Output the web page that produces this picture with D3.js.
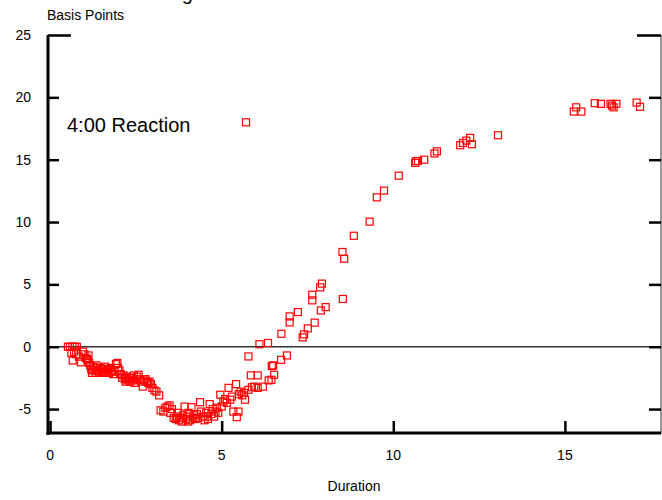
<!DOCTYPE html>
<html>
<head>
<meta charset="utf-8">
<script src="https://cdn.jsdelivr.net/npm/d3@7"></script>
<style>
  body { margin: 0; background: #fff; }
  text { font-family: Arial, "Liberation Sans", Helvetica, sans-serif; fill: #000; }
</style>
</head>
<body>
<script>
// duration of each observation (x) and the reaction in basis points (y)
var duration = [
  0.52, 0.58, 0.65, 0.72, 0.78, 0.62, 0.70, 0.66, 0.76, 0.84, 0.90, 0.96, 1.00, 1.04, 1.08, 1.12, 1.14, 1.10,
  1.17, 1.20, 1.22, 1.26, 1.30, 1.33, 1.37, 1.40, 1.44, 1.48, 1.52, 1.56, 1.60, 1.64, 1.68, 1.72, 1.76, 1.80,
  1.84, 1.88, 1.92, 1.96, 1.98, 2.02, 2.06, 1.50, 1.35, 1.62, 1.78, 1.24,
  2.10, 2.14, 2.18, 2.22, 2.26, 2.30, 2.34, 2.38, 2.42, 2.46, 2.50, 2.54, 2.58, 2.62, 2.66, 2.70, 2.74, 2.78,
  2.82, 2.86, 2.90, 2.94, 2.98, 3.04, 3.10, 3.18, 2.44, 2.20,
  3.22, 3.30, 3.36, 3.42, 3.48, 3.55, 3.60, 3.66, 3.70, 3.75, 3.80, 3.84, 3.88, 3.92, 3.96, 4.00, 4.04, 4.08,
  4.12, 4.16, 4.20, 4.24, 4.28, 4.32, 4.37, 4.40, 4.45, 4.50, 4.55, 4.60, 4.65, 4.70, 4.74, 4.78, 4.82, 4.86,
  4.90, 3.50, 3.72, 4.02, 4.60,
  4.96, 5.00, 5.05, 5.10, 5.15, 5.20, 5.25, 5.30, 5.34, 5.42, 5.44, 5.49, 5.50, 5.55, 5.60, 5.65, 5.68, 5.71,
  5.78, 5.78, 5.85, 5.88, 5.95, 6.05, 6.05, 6.10, 6.20, 6.35, 6.37, 6.45, 6.46, 6.50, 6.53, 6.73, 6.74, 6.90,
  6.98, 6.98, 7.22, 7.36, 7.40, 7.51, 7.64, 7.64, 7.71, 7.87, 7.92, 7.89, 8.03, 8.52, 8.57, 8.53, 8.85,
  9.31, 9.52, 9.73, 10.16, 10.64, 10.66, 10.72, 10.90, 11.20, 11.27, 11.95, 12.03, 12.13, 12.24, 12.29, 13.05,
  15.26, 15.33, 15.48, 15.87, 16.05, 16.33, 16.37, 16.42, 16.50, 17.09, 17.19
];

var basisPoints = [
  0.0, 0.0, 0.0, 0.0, 0.0, -0.5, -0.4, -1.1, -0.6, -0.8, -1.25, -0.4, -0.6, -0.9, -1.0, -0.7, -1.3, -1.1,
  -1.5, -1.8, -2.1, -1.6, -1.9, -2.1, -1.7, -1.9, -2.0, -1.7, -1.8, -2.0, -1.6, -1.9, -1.8, -2.1, -1.7, -1.9,
  -2.2, -2.0, -1.4, -1.3, -1.7, -1.9, -2.2, -2.1, -1.5, -2.1, -2.0, -1.9,
  -2.5, -2.3, -2.6, -2.4, -2.7, -2.5, -2.8, -2.5, -2.7, -2.9, -2.6, -2.4, -2.25, -2.6, -2.8, -3.2, -2.7, -2.6,
  -2.8, -2.9, -2.8, -3.0, -3.3, -3.5, -3.6, -3.9, -2.3, -2.8,
  -5.1, -5.2, -4.9, -4.8, -4.7, -5.0, -5.7, -5.8, -5.6, -5.9, -5.7, -6.0, -5.5, -4.8, -5.8, -5.6, -5.3, -5.9,
  -4.85, -5.7, -5.5, -5.8, -5.4, -5.7, -4.45, -5.2, -5.6, -5.9, -5.3, -5.6, -4.6, -5.4, -5.0, -5.6, -5.2, -4.9,
  -5.3, -5.3, -5.3, -6.0, -5.8,
  -3.85, -4.8, -4.4, -4.2, -4.5, -3.3, -4.25, -4.0, -5.2, -3.0, -5.65, -5.2, -3.8, -3.6, -3.9, -3.7, -4.25, 18.0,
  -3.45, -0.78, -2.3, -3.25, -3.2, -2.3, -3.3, 0.2, -3.2, 0.3, -2.7, -2.65, -1.55, -1.5, -2.25, -1.05, 1.04, -0.7,
  2.43, 1.95, 2.78, 0.75, 0.99, 1.47, 4.17, 3.72, 1.93, 4.76, 5.06, 2.91, 3.18, 7.6, 7.06, 3.83, 8.9,
  10.03, 11.98, 12.52, 13.72, 14.74, 14.88, 14.9, 15.0, 15.5, 15.67, 16.16, 16.34, 16.53, 16.75, 16.24, 16.96,
  18.86, 19.2, 18.86, 19.53, 19.48, 19.48, 19.34, 19.2, 19.48, 19.58, 19.24
];

var xTicks = [0, 5, 10, 15];
var yTicks = [-5, 0, 5, 10, 15, 20, 25];

var points = duration.map(function(d, i) { return { x: d, y: basisPoints[i] }; });

var width = 662, height = 500;

var svg = d3.select("body").append("svg")
    .attr("width", width)
    .attr("height", height);

// scales
var x = d3.scaleLinear().domain([-0.06, 17.8]).range([48, 661]);
var y = d3.scaleLinear().domain([-7, 25]).range([434, 35]);

// title, mostly cut off at the top edge
svg.append("text")
    .attr("x", 165)
    .attr("y", 0)
    .style("font-size", "20px")
    .text("Figure 3: Bond Market Reaction to News");

// zero line
svg.append("line")
    .attr("x1", x.range()[0]).attr("x2", x.range()[1])
    .attr("y1", y(0)).attr("y2", y(0))
    .attr("stroke", "#333")
    .attr("stroke-width", 1.5);

// right axis (thin) with inward ticks
var rightAxis = d3.axisLeft(y).tickValues(yTicks).tickSize(12).tickFormat("");
var gr = svg.append("g")
    .attr("transform", "translate(" + x.range()[1] + ",0)")
    .call(rightAxis);
gr.select(".domain").attr("stroke", "#555").attr("stroke-width", 1.2).attr("d", "M0," + y.range()[1] + "V" + y.range()[0]);
gr.selectAll(".tick line").attr("stroke-width", 2.5).attr("x2", function(d) { return d == 25 ? -24 : -12; });

// left axis
var leftAxis = d3.axisRight(y).tickValues(yTicks).tickSize(11).tickFormat("");
var gl = svg.append("g")
    .attr("transform", "translate(" + x.range()[0] + ",0)")
    .call(leftAxis);
gl.select(".domain").attr("stroke-width", 3).attr("d", "M0," + y.range()[1] + "V" + (y.range()[0] + 1));
gl.selectAll(".tick line").attr("stroke-width", 2.5).attr("x2", function(d) { return d == 25 ? 23 : 11; });

// y tick labels
svg.selectAll(".ylab")
    .data(yTicks)
    .enter()
    .append("text")
    .attr("class", "ylab")
    .attr("x", 31)
    .attr("y", function(d) { return y(d) + 5; })
    .attr("text-anchor", "end")
    .style("font-size", "14px")
    .text(function(d) { return d; });

// bottom axis with ticks pointing up
var bottomAxis = d3.axisTop(x).tickValues(xTicks).tickSize(12).tickFormat("");
var gb = svg.append("g")
    .attr("transform", "translate(0," + 433 + ")")
    .call(bottomAxis);
gb.select(".domain").attr("stroke-width", 3).attr("d", "M" + (x.range()[0] - 1.5) + ",0H" + x.range()[1]);
gb.selectAll(".tick line").attr("stroke-width", 2.5);

// x tick labels
svg.selectAll(".xlab")
    .data(xTicks)
    .enter()
    .append("text")
    .attr("class", "xlab")
    .attr("x", function(d) { return x(d); })
    .attr("y", 460)
    .attr("text-anchor", "middle")
    .style("font-size", "14px")
    .text(function(d) { return d; });

// axis titles
svg.append("text")
    .attr("x", 47)
    .attr("y", 20)
    .style("font-size", "14px")
    .text("Basis Points");

svg.append("text")
    .attr("x", 354)
    .attr("y", 491)
    .attr("text-anchor", "middle")
    .style("font-size", "14px")
    .text("Duration");

// annotation
svg.append("text")
    .attr("x", 67)
    .attr("y", 132)
    .style("font-size", "20px")
    .text("4:00 Reaction");

// the observations as open red squares
var s = 7;
svg.selectAll(".pt")
    .data(points)
    .enter()
    .append("rect")
    .attr("class", "pt")
    .attr("x", function(d) { return x(d.x) - s / 2; })
    .attr("y", function(d) { return y(d.y) - s / 2; })
    .attr("width", s)
    .attr("height", s)
    .attr("fill", "none")
    .attr("stroke", "red")
    .attr("stroke-width", 1.2);
</script>
</body>
</html>
